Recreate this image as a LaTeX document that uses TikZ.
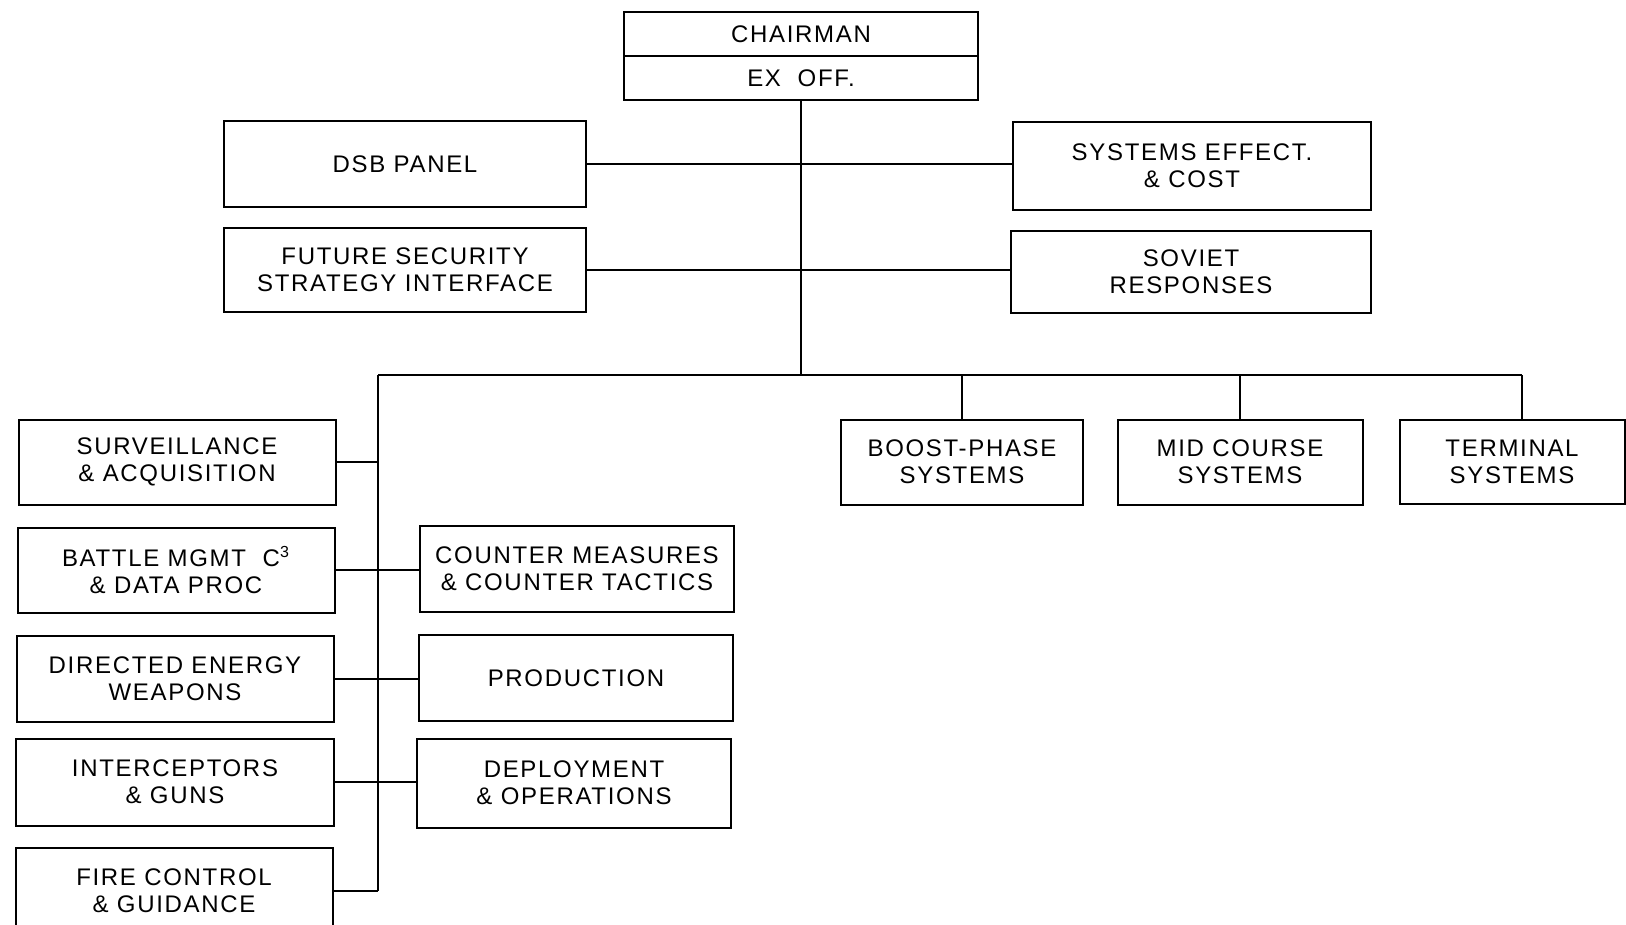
\documentclass[tikz,border=0pt]{standalone}
\usepackage{fontspec}
\setmainfont{Liberation Sans}[LetterSpace=7]
\usepackage{tikz}

\begin{document}
\begin{tikzpicture}[x=0.5pt, y=-0.5pt,
    box/.style={draw, line width=1pt, rectangle, align=center, inner sep=0pt,
        font=\fontsize{12}{13.5}\selectfont},
    link/.style={line width=1pt}]

    \useasboundingbox (0,0) rectangle (1626,925);
    \clip (0,0) rectangle (1626,925);

    \node[box, minimum width=177pt, minimum height=22pt] (chair) at (801,34) {CHAIRMAN};
    \node[box, minimum width=177pt, minimum height=22pt] (exoff) at (801,78) {EX\ \ OFF.};

    \node[box, minimum width=181pt, minimum height=43pt] (dsb) at (405,164) {DSB PANEL};
    \node[box, minimum width=181pt, minimum height=42pt] (future) at (405,270) {FUTURE SECURITY\\STRATEGY INTERFACE};

    \node[box, minimum width=179pt, minimum height=44pt] (syseff) at (1192,166) {SYSTEMS EFFECT.\\\& COST};
    \node[box, minimum width=180pt, minimum height=41pt] (soviet) at (1191,272) {SOVIET\\RESPONSES};

    \node[box, minimum width=121pt, minimum height=42.5pt] (boost) at (962,462) {BOOST-PHASE\\SYSTEMS};
    \node[box, minimum width=122.5pt, minimum height=42.5pt] (mid) at (1240,462) {MID COURSE\\SYSTEMS};
    \node[box, minimum width=112.5pt, minimum height=42pt] (term) at (1512,462) {TERMINAL\\SYSTEMS};

    \node[box, minimum width=158.5pt, minimum height=42.5pt] (surv) at (177,462) {SURVEILLANCE\\\& ACQUISITION};
    \node[box, minimum width=158.5pt, minimum height=42.5pt] (battle) at (176,570) {BATTLE MGMT\ \ C\textsuperscript{3}\\\& DATA PROC};
    \node[box, minimum width=158.5pt, minimum height=43pt] (dew) at (175,679) {DIRECTED ENERGY\\WEAPONS};
    \node[box, minimum width=159pt, minimum height=43.5pt] (intc) at (175,782) {INTERCEPTORS\\\& GUNS};
    \node[box, minimum width=158.5pt, minimum height=43.5pt] (fire) at (174,891) {FIRE CONTROL\\\& GUIDANCE};

    \node[box, minimum width=157pt, minimum height=43pt] (cm) at (577,569) {COUNTER MEASURES\\\& COUNTER TACTICS};
    \node[box, minimum width=157pt, minimum height=43pt] (prod) at (576,678) {PRODUCTION};
    \node[box, minimum width=157pt, minimum height=44.5pt] (dep) at (574,783) {DEPLOYMENT\\\& OPERATIONS};

    \coordinate (busL) at (378,375);
    \coordinate (busR) at (1522,375);

    \draw[link] (exoff.south) -- (exoff.south |- busL);
    \draw[link] (dsb.east) -- (dsb.east -| syseff.west);
    \draw[link] (future.east) -- (future.east -| soviet.west);
    \draw[link] (busL) -- (busR);

    \draw[link] (boost.north) -- (boost.north |- busL);
    \draw[link] (mid.north) -- (mid.north |- busL);
    \draw[link] (busR) -- (busR |- term.north);

    \draw[link] (busL) -- (busL |- fire.east);
    \draw[link] (surv.east) -- (surv.east -| busL);
    \draw[link] (battle.east) -- (battle.east -| cm.west);
    \draw[link] (dew.east) -- (dew.east -| prod.west);
    \draw[link] (intc.east) -- (intc.east -| dep.west);
    \draw[link] (fire.east) -- (fire.east -| busL);

\end{tikzpicture}
\end{document}
